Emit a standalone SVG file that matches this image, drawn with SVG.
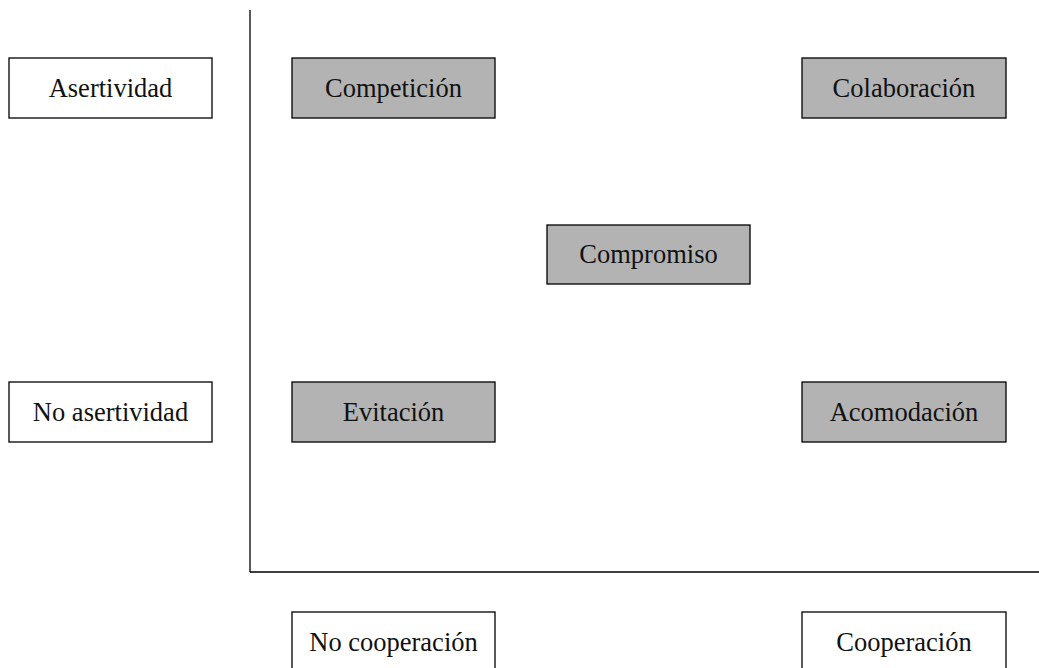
<svg xmlns="http://www.w3.org/2000/svg" width="1039" height="668" viewBox="0 0 1039 668">
<style>
.b{stroke:#000;stroke-width:1.3}
.w{fill:#fff}
.g{fill:#b3b3b3}
text{font-family:"Liberation Serif","Times New Roman",serif;font-size:26.5px;fill:#111;text-anchor:middle}
.ax{stroke:#000;stroke-width:1.3;fill:none}
</style>
<rect width="1039" height="668" fill="#fff"/>
<g id="axes">
<line class="ax" x1="250" y1="10" x2="250" y2="572"/>
<line class="ax" x1="250" y1="572" x2="1039" y2="572"/>
</g>
<g id="asertividad"><rect class="b w" x="9" y="58" width="203" height="60"/><text x="110.5" y="97">Asertividad</text></g>
<g id="competicion"><rect class="b g" x="292" y="58" width="203" height="60"/><text x="393.5" y="97">Competición</text></g>
<g id="colaboracion"><rect class="b g" x="802" y="58" width="204" height="60"/><text x="904" y="97">Colaboración</text></g>
<g id="compromiso"><rect class="b g" x="547" y="225" width="203" height="59"/><text x="648.5" y="263">Compromiso</text></g>
<g id="no-asertividad"><rect class="b w" x="9" y="382" width="203" height="60"/><text x="110.5" y="421">No asertividad</text></g>
<g id="evitacion"><rect class="b g" x="292" y="382" width="203" height="60"/><text x="393.5" y="421">Evitación</text></g>
<g id="acomodacion"><rect class="b g" x="802" y="382" width="204" height="60"/><text x="904" y="421">Acomodación</text></g>
<g id="no-cooperacion"><rect class="b w" x="292" y="612" width="203" height="70"/><text x="393.5" y="651">No cooperación</text></g>
<g id="cooperacion"><rect class="b w" x="802" y="612" width="204" height="70"/><text x="904" y="651">Cooperación</text></g>
</svg>
